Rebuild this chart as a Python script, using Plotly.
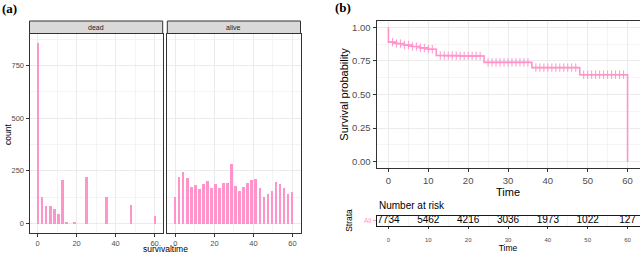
import numpy as np
import plotly.graph_objects as go

# ---------------- data ----------------
n_bins = 30
bin_lo, bin_hi = 0, 60
dead_counts = [859, 130, 84, 87, 73, 48, 207, 6, 0, 11, 0, 0, 221, 0, 0,
               0, 0, 127, 0, 0, 0, 0, 0, 92, 0, 0, 0, 0, 0, 40]
alive_counts = [129, 223, 246, 218, 175, 183, 167, 191, 202, 172, 192, 170, 194, 197, 285,
                181, 157, 178, 194, 211, 213, 169, 126, 143, 157, 199, 188, 170, 142, 153]
facet_labels = ["dead", "alive"]

km_time = [0, 0, 2, 4, 6, 8, 10, 12, 14, 18, 24, 36, 48, 60]
km_surv = [1.0, 0.890, 0.879, 0.868, 0.857, 0.847, 0.837, 0.790, 0.789, 0.787, 0.739, 0.700, 0.647, 0.0]
censor_times = [1, 2, 3, 4, 5, 6, 7, 8, 9, 10, 11, 13, 14, 15, 16, 17, 18, 19, 20, 21, 22, 23,
                25, 26, 27, 28, 29, 30, 31, 32, 33, 34, 35, 37, 38, 39, 40, 41, 42, 43, 44, 45,
                46, 47, 49, 50, 51, 52, 53, 54, 55, 56, 57, 58, 59]

risk_times = [0, 10, 20, 30, 40, 50, 60]
risk_counts = [7734, 5462, 4216, 3036, 1973, 1022, 127]
strata = "All"

PINK = "#FF94CB"
FONT = "Liberation Sans"
W, H = 640, 253

# bin centres from histogram definition
bin_centers = np.linspace(bin_lo, bin_hi, n_bins)
bin_w = (bin_hi - bin_lo) / (n_bins - 1)

# survival at censor times (step lookup)
kt = np.array(km_time, dtype=float)
ks = np.array(km_surv, dtype=float)
cens_y = [ks[np.searchsorted(kt, c, side="right") - 1] for c in censor_times]


def px(x0, x1):
    return [x0 / W, x1 / W]


def py(top, bottom):
    return [1 - bottom / H, 1 - top / H]


fig = go.Figure()

fig.add_trace(go.Bar(x=bin_centers, y=dead_counts, width=bin_w * 0.66,
                     marker=dict(color=PINK, line=dict(width=0)),
                     xaxis="x", yaxis="y", showlegend=False))
fig.add_trace(go.Bar(x=bin_centers, y=alive_counts, width=bin_w * 0.66,
                     marker=dict(color=PINK, line=dict(width=0)),
                     xaxis="x2", yaxis="y2", showlegend=False))

fig.add_trace(go.Scatter(x=km_time, y=km_surv, mode="lines", line=dict(color=PINK, width=1.6, shape="hv"),
                         xaxis="x3", yaxis="y3", showlegend=False))
fig.add_trace(go.Scatter(x=censor_times, y=cens_y, mode="markers",
                         marker=dict(symbol="cross-thin", size=6, line=dict(color=PINK, width=1)),
                         xaxis="x3", yaxis="y3", showlegend=False))

fig.add_trace(go.Scatter(x=risk_times, y=[strata] * len(risk_times), mode="text",
                         text=[str(v) for v in risk_counts],
                         textfont=dict(family=FONT, size=10, color="black"),
                         xaxis="x4", yaxis="y4", showlegend=False, cliponaxis=False))

grid = "#EBEBEB"
border = "#333333"
tickc = "#4D4D4D"

common = dict(showline=True, linecolor=border, linewidth=1, mirror=True, zeroline=False,
              gridcolor=grid, gridwidth=1, ticks="outside", ticklen=3, tickcolor=border,
              automargin=False)

hist_x = dict(common, range=[-4.14, 64.14], tickvals=[0, 20, 40, 60],
              minor=dict(showgrid=True, gridcolor="#F4F4F4", tickvals=[10, 30, 50], ticks=""),
              tickfont=dict(family=FONT, size=7.5, color=tickc))
hist_y = dict(common, range=[-43, 903], tickvals=[0, 250, 500, 750],
              minor=dict(showgrid=True, gridcolor="#F4F4F4", tickvals=[125, 375, 625, 875], ticks=""),
              tickfont=dict(family=FONT, size=7.5, color=tickc))

fig.update_layout(
    width=W, height=H, margin=dict(l=0, r=0, t=0, b=0, autoexpand=False),
    paper_bgcolor="white", plot_bgcolor="white",
    font=dict(family=FONT),
    bargap=0,
    xaxis=dict(hist_x, domain=px(29.5, 162.7), anchor="y"),
    yaxis=dict(hist_y, domain=py(33.5, 232.5), anchor="x"),
    xaxis2=dict(hist_x, domain=px(167.3, 300.5), anchor="y2"),
    yaxis2=dict(hist_y, domain=py(33.5, 232.5), anchor="x2", showticklabels=False, ticks=""),
    xaxis3=dict(common, domain=px(376.5, 639.5), anchor="y3", range=[-3, 63], dtick=10,
                minor=dict(showgrid=True, gridcolor="#F4F4F4", dtick=5, ticks=""),
                tickfont=dict(family=FONT, size=9.5, color=tickc),
                title=dict(text="Time", font=dict(family=FONT, size=11, color="black"), standoff=0)),
    yaxis3=dict(common, domain=py(20.6, 168.4), anchor="x3", range=[-0.05, 1.05],
                tickvals=[0, 0.25, 0.5, 0.75, 1.0], ticktext=["0.00", "0.25", "0.50", "0.75", "1.00"],
                minor=dict(showgrid=True, gridcolor="#F4F4F4", tickvals=[0.125, 0.375, 0.625, 0.875], ticks=""),
                tickfont=dict(family=FONT, size=9.5, color=tickc),
                title=dict(text="Survival probability", font=dict(family=FONT, size=11, color="black"), standoff=1)),
    xaxis4=dict(common, domain=px(376.5, 639.5), anchor="y4", range=[-3, 63], dtick=10,
                minor=dict(showgrid=True, gridcolor="#F4F4F4", dtick=5, ticks=""),
                linecolor="#1A1A1A", ticklen=2, ticklabelstandoff=6,
                tickfont=dict(family=FONT, size=6, color=tickc),
                title=dict(text="Time", font=dict(family=FONT, size=8.5, color="black"), standoff=0)),
    yaxis4=dict(common, domain=py(215.5, 225.5), anchor="x4", type="category", linecolor="#1A1A1A",
                ticklen=3, showgrid=False, tickcolor=PINK,
                tickfont=dict(family=FONT, size=6.5, color=PINK),
                title=dict(text="Strata", font=dict(family=FONT, size=8.5, color="black"), standoff=9)),
)

# facet strips
for (x0, x1), lab in zip([(29.5, 162.7), (167.3, 300.5)], facet_labels):
    fig.add_shape(type="rect", xref="paper", yref="paper",
                  x0=x0 / W, x1=x1 / W, y0=1 - 33.5 / H, y1=1 - 21 / H,
                  fillcolor="#D9D9D9", line=dict(color=border, width=1))
    fig.add_annotation(text=lab, x=(x0 + x1) / 2 / W, y=1 - 27.3 / H, xref="paper", yref="paper",
                       showarrow=False, font=dict(family=FONT, size=7, color="#1A1A1A"),
                       xanchor="center", yanchor="middle")

ann = [
    dict(text="survivaltime", x=165 / W, y=1 - 249 / H, size=8.5),
    dict(text="count", x=8 / W, y=1 - 135 / H, size=8.5, angle=-90),
]
for a in ann:
    fig.add_annotation(text=a["text"], x=a["x"], y=a["y"], xref="paper", yref="paper", showarrow=False,
                       font=dict(family=FONT, size=a["size"], color="black"), textangle=a.get("angle", 0),
                       xanchor="center", yanchor="middle")

fig.add_annotation(text="Number at risk", x=376.5 / W, y=1 - 205 / H, xref="paper", yref="paper",
                   showarrow=False, font=dict(family=FONT, size=10, color="black"),
                   xanchor="left", yanchor="middle")

for lab, x, y in [("(a)", 0, 8.5), ("(b)", 333, 7.5)]:
    fig.add_annotation(text="<b>" + lab + "</b>", x=x / W, y=1 - y / H, xref="paper", yref="paper",
                       showarrow=False, font=dict(family="Liberation Serif", size=13, color="black"),
                       xanchor="left", yanchor="middle")

fig.write_html("out.html", config={"displayModeBar": False},
               post_script="document.body.style.margin='0';document.body.style.padding='0';"
                           "document.body.style.overflow='hidden';")
